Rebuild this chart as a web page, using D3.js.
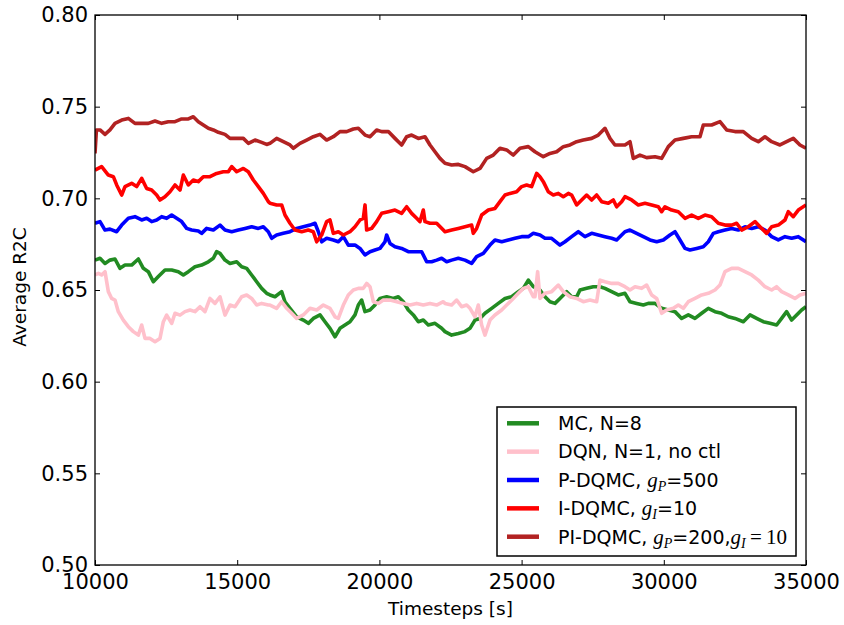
<!DOCTYPE html>
<html>
<head>
<meta charset="utf-8">
<script src="https://cdn.jsdelivr.net/npm/d3@7"></script>
<style>
  html, body { margin: 0; padding: 0; background: #fff; }
  svg { display: block; font-family: "DejaVu Sans", sans-serif; }
</style>
</head>
<body>
<svg id="chart" width="844" height="625"></svg>
<script>
// ---------- DATA (timestep, average R2C) ----------
const mcData = [[10000,0.6663],[10176,0.6673],[10352,0.6645],[10527,0.6663],[10703,0.6669],[10879,0.6618],[11055,0.6636],[11289,0.6636],[11524,0.6669],[11699,0.6618],[11875,0.6600],[12051,0.6545],[12227,0.6573],[12461,0.6609],[12696,0.6609],[12930,0.6600],[13106,0.6582],[13282,0.6600],[13516,0.6627],[13750,0.6636],[13985,0.6654],[14161,0.6673],[14278,0.6709],[14395,0.6700],[14571,0.6663],[14747,0.6645],[14981,0.6654],[15157,0.6627],[15333,0.6618],[15508,0.6582],[15684,0.6545],[15860,0.6509],[16036,0.6482],
[16153,0.6473],[16329,0.6463],[16563,0.6491],[16680,0.6436],[16856,0.6400],[17091,0.6354],[17325,0.6336],[17501,0.6318],[17677,0.6345],[17911,0.6364],[18087,0.6327],[18263,0.6291],[18439,0.6245],[18614,0.6291],[18790,0.6309],[18966,0.6327],[19142,0.6364],[19259,0.6418],[19376,0.6445],[19494,0.6382],[19669,0.6391],[19845,0.6418],[20021,0.6454],[20255,0.6463],[20489,0.6454],[20665,0.6463],[20841,0.6436],[21017,0.6391],[21193,0.6364],[21369,0.6327],[21544,0.6336],[21720,0.6309],[21955,0.6318],[22189,0.6291],
[22306,0.6273],[22540,0.6254],[22775,0.6263],[23009,0.6273],[23185,0.6291],[23361,0.6336],[23537,0.6345],[23712,0.6373],[23947,0.6400],[24181,0.6427],[24416,0.6454],[24650,0.6463],[24884,0.6491],[25060,0.6509],[25236,0.6554],[25412,0.6518],[25646,0.6500],[25822,0.6463],[25998,0.6436],[26174,0.6427],[26349,0.6454],[26584,0.6491],[26760,0.6463],[26936,0.6463],[27053,0.6500],[27287,0.6509],[27522,0.6518],[27756,0.6518],[27932,0.6509],[28166,0.6491],[28400,0.6473],
[28635,0.6482],[28811,0.6436],[29045,0.6427],[29280,0.6418],[29455,0.6427],[29690,0.6427],[29924,0.6400],[30159,0.6391],[30393,0.6382],[30627,0.6345],[30862,0.6364],[31096,0.6345],[31331,0.6373],[31565,0.6400],[31800,0.6382],[32034,0.6373],[32269,0.6354],[32503,0.6345],[32796,0.6327],[33030,0.6364],[33264,0.6345],[33498,0.6327],[33733,0.6318],[33967,0.6309],[34143,0.6345],[34319,0.6382],[34495,0.6336],[34671,0.6364],[34846,0.6391],[35000,0.6409]];

const dqnData = [[10000,0.6582],[10117,0.6591],[10234,0.6582],[10352,0.6600],[10469,0.6491],[10586,0.6454],[10703,0.6445],[10820,0.6382],[10996,0.6336],[11172,0.6300],[11348,0.6273],[11524,0.6254],[11641,0.6309],[11758,0.6236],[11934,0.6236],[12110,0.6218],[12285,0.6236],[12403,0.6327],[12520,0.6363],[12696,0.6318],[12813,0.6373],[12989,0.6363],[13164,0.6382],[13340,0.6391],[13516,0.6382],[13692,0.6409],[13868,0.6382],[14043,0.6454],[14219,0.6427],[14395,0.6463],[14571,0.6363],[14747,0.6418],[14922,0.6409],[15157,0.6463],[15333,0.6473],[15508,0.6454],[15684,0.6418],[15860,0.6427],[16094,0.6418],
[16153,0.6418],[16387,0.6400],[16563,0.6436],[16739,0.6400],[16915,0.6373],[17091,0.6345],[17325,0.6364],[17560,0.6400],[17794,0.6391],[18028,0.6418],[18263,0.6400],[18439,0.6354],[18556,0.6345],[18732,0.6418],[18907,0.6473],[19083,0.6500],[19259,0.6509],[19435,0.6509],[19552,0.6536],[19669,0.6518],[19786,0.6436],[19962,0.6427],[20138,0.6445],[20372,0.6445],[20607,0.6436],[20841,0.6427],[21075,0.6418],[21310,0.6427],[21544,0.6418],[21779,0.6427],[22013,0.6418],[22247,0.6436],
[22306,0.6427],[22540,0.6418],[22716,0.6445],[22892,0.6409],[23068,0.6418],[23185,0.6400],[23361,0.6354],[23478,0.6418],[23595,0.6309],[23712,0.6254],[23888,0.6336],[24064,0.6364],[24299,0.6391],[24474,0.6418],[24709,0.6454],[24884,0.6482],[25060,0.6509],[25236,0.6518],[25412,0.6463],[25470,0.6463],[25564,0.6600],[25646,0.6454],[25822,0.6482],[26056,0.6491],[26291,0.6527],[26467,0.6491],[26701,0.6463],[26936,0.6454],[27170,0.6436],[27404,0.6445],[27639,0.6436],[27756,0.6554],[27932,0.6545],[28166,0.6536],[28400,0.6536],
[28635,0.6518],[28811,0.6500],[28987,0.6518],[29221,0.6509],[29397,0.6527],[29573,0.6473],[29749,0.6454],[29924,0.6373],[30100,0.6391],[30335,0.6400],[30510,0.6418],[30686,0.6400],[30862,0.6436],[31096,0.6454],[31331,0.6473],[31565,0.6482],[31800,0.6500],[31975,0.6527],[32151,0.6600],[32386,0.6618],[32620,0.6618],[32854,0.6600],[33089,0.6582],[33323,0.6554],[33557,0.6518],[33792,0.6500],[33967,0.6518],[34143,0.6491],[34378,0.6473],[34612,0.6454],[34788,0.6473],[35000,0.6482]];

const pData = [[10000,0.6864],[10176,0.6873],[10352,0.6827],[10527,0.6832],[10762,0.6818],[10938,0.6854],[11172,0.6891],[11406,0.6900],[11641,0.6882],[11817,0.6891],[11992,0.6873],[12168,0.6882],[12344,0.6900],[12520,0.6891],[12696,0.6909],[12871,0.6891],[13047,0.6873],[13223,0.6836],[13399,0.6827],[13633,0.6822],[13750,0.6809],[13926,0.6836],[14161,0.6827],[14395,0.6854],[14571,0.6827],[14805,0.6818],[15040,0.6827],[15274,0.6836],[15508,0.6845],[15743,0.6836],[15919,0.6845],[16094,0.6818],
[16212,0.6782],[16387,0.6800],[16622,0.6809],[16856,0.6818],[17091,0.6836],[17325,0.6845],[17560,0.6854],[17735,0.6864],[17853,0.6818],[17970,0.6763],[18145,0.6782],[18380,0.6773],[18556,0.6763],[18732,0.6791],[18907,0.6745],[19142,0.6745],[19318,0.6727],[19494,0.6691],[19669,0.6709],[19845,0.6718],[20021,0.6727],[20197,0.6763],[20255,0.6800],[20372,0.6754],[20548,0.6736],[20782,0.6727],[21017,0.6709],[21251,0.6709],[21486,0.6709],[21662,0.6654],[21837,0.6654],[22013,0.6663],[22189,0.6673],
[22365,0.6654],[22540,0.6663],[22775,0.6673],[23009,0.6663],[23244,0.6645],[23419,0.6682],[23654,0.6700],[23888,0.6745],[24064,0.6773],[24299,0.6763],[24533,0.6773],[24767,0.6782],[25002,0.6791],[25236,0.6791],[25412,0.6809],[25646,0.6800],[25822,0.6782],[26056,0.6782],[26349,0.6745],[26525,0.6763],[26760,0.6791],[26994,0.6818],[27228,0.6791],[27463,0.6809],[27697,0.6800],[27932,0.6791],[28166,0.6782],[28342,0.6773],[28518,0.6800],
[28635,0.6818],[28811,0.6827],[29045,0.6809],[29280,0.6791],[29514,0.6773],[29749,0.6763],[29983,0.6773],[30217,0.6800],[30393,0.6818],[30569,0.6773],[30745,0.6727],[30920,0.6718],[31155,0.6727],[31389,0.6736],[31565,0.6763],[31741,0.6809],[31917,0.6818],[32151,0.6827],[32386,0.6836],[32620,0.6827],[32854,0.6845],[33089,0.6836],[33323,0.6845],[33557,0.6827],[33792,0.6791],[34026,0.6773],[34261,0.6791],[34495,0.6782],[34729,0.6791],[35000,0.6763]];

const iData = [[10000,0.7154],[10234,0.7173],[10469,0.7127],[10645,0.7118],[10762,0.7073],[10938,0.7018],[11055,0.7064],[11289,0.7082],[11465,0.7064],[11641,0.7109],[11817,0.7054],[11992,0.7045],[12168,0.7018],[12285,0.6991],[12461,0.7009],[12637,0.7036],[12813,0.7073],[12989,0.7045],[13106,0.7127],[13282,0.7073],[13457,0.7100],[13633,0.7091],[13809,0.7118],[14043,0.7118],[14278,0.7136],[14512,0.7145],[14688,0.7145],[14805,0.7173],[14981,0.7145],[15215,0.7163],[15391,0.7145],[15567,0.7100],[15743,0.7064],[15919,0.7027],[16094,0.6982],
[16153,0.6973],[16387,0.6964],[16563,0.6964],[16680,0.6909],[16856,0.6864],[17032,0.6827],[17266,0.6818],[17501,0.6827],[17677,0.6818],[17794,0.6763],[17970,0.6800],[18145,0.6873],[18263,0.6882],[18380,0.6809],[18556,0.6818],[18732,0.6800],[18966,0.6818],[19142,0.6845],[19318,0.6882],[19435,0.6891],[19494,0.6964],[19552,0.6827],[19728,0.6836],[19903,0.6873],[20079,0.6918],[20314,0.6927],[20548,0.6936],[20782,0.6918],[20958,0.6954],[21134,0.6918],[21310,0.6891],[21427,0.6873],[21544,0.6936],[21603,0.6873],[21779,0.6864],[22013,0.6864],[22247,0.6827],
[22306,0.6818],[22540,0.6827],[22775,0.6836],[23009,0.6845],[23244,0.6854],[23302,0.6809],[23419,0.6836],[23595,0.6909],[23830,0.6936],[24064,0.6945],[24240,0.6982],[24416,0.7018],[24592,0.7027],[24826,0.7036],[25002,0.7064],[25177,0.7073],[25353,0.7064],[25529,0.7136],[25646,0.7118],[25763,0.7091],[25939,0.7036],[26115,0.7018],[26291,0.7027],[26467,0.7009],[26643,0.7027],[26760,0.7018],[26936,0.6964],[27111,0.6991],[27287,0.7018],[27463,0.6991],[27639,0.7018],[27815,0.6982],[28049,0.6973],[28225,0.6991],[28342,0.6954],[28518,0.6982],
[28635,0.7009],[28869,0.6991],[29104,0.6964],[29338,0.6973],[29573,0.6964],[29807,0.6954],[29924,0.6927],[30041,0.6954],[30276,0.6936],[30510,0.6927],[30745,0.6891],[30979,0.6909],[31213,0.6891],[31448,0.6909],[31682,0.6900],[31917,0.6864],[32151,0.6854],[32386,0.6854],[32561,0.6864],[32737,0.6827],[32971,0.6845],[33206,0.6873],[33381,0.6845],[33616,0.6809],[33792,0.6845],[34026,0.6854],[34261,0.6882],[34378,0.6927],[34553,0.6900],[34729,0.6936],[35000,0.6964]];

const piData = [[10000,0.7245],[10050,0.7373],[10176,0.7373],[10352,0.7349],[10527,0.7373],[10703,0.7409],[10938,0.7427],[11172,0.7436],[11406,0.7409],[11641,0.7409],[11875,0.7409],[12110,0.7422],[12344,0.7409],[12578,0.7418],[12813,0.7418],[13047,0.7433],[13282,0.7433],[13457,0.7445],[13633,0.7418],[13809,0.7400],[13985,0.7382],[14161,0.7373],[14336,0.7360],[14571,0.7349],[14747,0.7327],[14981,0.7327],[15215,0.7327],[15391,0.7300],[15626,0.7318],[15860,0.7305],[16036,0.7294],
[16153,0.7300],[16387,0.7327],[16622,0.7309],[16856,0.7291],[16973,0.7273],[17208,0.7300],[17442,0.7318],[17677,0.7336],[17911,0.7349],[18145,0.7318],[18380,0.7336],[18614,0.7364],[18849,0.7364],[19083,0.7378],[19259,0.7382],[19495,0.7345],[19669,0.7336],[19903,0.7373],[20079,0.7364],[20314,0.7364],[20548,0.7327],[20782,0.7291],[20958,0.7336],[21134,0.7345],[21369,0.7327],[21603,0.7336],[21779,0.7291],[21955,0.7254],[22130,0.7218],
[22306,0.7191],[22540,0.7182],[22775,0.7185],[23009,0.7173],[23302,0.7145],[23537,0.7163],[23771,0.7218],[24005,0.7236],[24240,0.7273],[24474,0.7264],[24709,0.7236],[24943,0.7273],[25236,0.7282],[25470,0.7254],[25763,0.7227],[25998,0.7245],[26232,0.7254],[26467,0.7282],[26701,0.7291],[26936,0.7309],[27170,0.7318],[27463,0.7327],[27697,0.7345],[27932,0.7382],[28107,0.7327],[28283,0.7291],[28518,0.7291],
[28635,0.7291],[28811,0.7309],[28928,0.7218],[29162,0.7236],[29397,0.7222],[29690,0.7227],[29924,0.7218],[30159,0.7282],[30393,0.7318],[30686,0.7327],[30979,0.7336],[31272,0.7336],[31389,0.7400],[31682,0.7400],[31975,0.7418],[32210,0.7373],[32503,0.7364],[32796,0.7364],[33089,0.7327],[33323,0.7309],[33557,0.7336],[33792,0.7309],[34085,0.7291],[34319,0.7309],[34553,0.7327],[34788,0.7291],[35000,0.7273]];

const xTicks = [10000, 15000, 20000, 25000, 30000, 35000];
const yTicks = [0.50, 0.55, 0.60, 0.65, 0.70, 0.75, 0.80];
const xLabel = "Timesteps [s]";
const yLabel = "Average R2C";

// legend labels: segments (m = math italic, sub = subscript, s = math upright)
const seriesNames = [
  [{t: "MC, N=8"}],
  [{t: "DQN, N=1, no ctl"}],
  [{t: "P-DQMC, "}, {t: "g", m: 1}, {t: "P", sub: 1}, {t: "=500"}],
  [{t: "I-DQMC, "}, {t: "g", m: 1}, {t: "I", sub: 1}, {t: "=10"}],
  [{t: "PI-DQMC, "}, {t: "g", m: 1}, {t: "P", sub: 1}, {t: "=200,"}, {t: "g", m: 1}, {t: "I", sub: 1}, {t: "\u2009=\u200910", s: 1}]
];
const seriesColors = ["#228B22", "#FFC0CB", "#0000FF", "#FF0000", "#B22222"];
const seriesData = [mcData, dqnData, pData, iData, piData];

// ---------- LAYOUT ----------
const svg = d3.select("#chart");
const L = 95, T = 15, R = 806, B = 565;
const x = d3.scaleLinear().domain([10000, 35000]).range([L, R]);
const y = d3.scaleLinear().domain([0.50, 0.80]).range([B, T]);

svg.append("defs").append("clipPath").attr("id", "clip")
  .append("rect").attr("x", L).attr("y", T).attr("width", R - L).attr("height", B - T);

// lines
const line = d3.line().x(d => x(d[0])).y(d => y(d[1]));
const gLines = svg.append("g").attr("clip-path", "url(#clip)");
seriesData.forEach((data, i) => {
  const sorted = data.slice().sort((a, b) => a[0] - b[0]);
  gLines.append("path").datum(sorted)
    .attr("d", line)
    .attr("fill", "none")
    .attr("stroke", seriesColors[i])
    .attr("stroke-width", 3.6)
    .attr("stroke-linejoin", "round");
});

// axes (ticks inward, on all four sides)
const tickLen = 5;
const fmtY = d3.format(".2f");
const axB = svg.append("g").attr("transform", `translate(0,${B})`)
  .call(d3.axisBottom(x).tickValues(xTicks).tickSizeInner(-tickLen).tickSizeOuter(0).tickPadding(12).tickFormat(d3.format("d")));
const axT = svg.append("g").attr("transform", `translate(0,${T})`)
  .call(d3.axisTop(x).tickValues(xTicks).tickSizeInner(-tickLen).tickSizeOuter(0).tickFormat(""));
const axL = svg.append("g").attr("transform", `translate(${L},0)`)
  .call(d3.axisLeft(y).tickValues(yTicks).tickSizeInner(-tickLen).tickSizeOuter(0).tickPadding(12).tickFormat(fmtY));
const axR = svg.append("g").attr("transform", `translate(${R},0)`)
  .call(d3.axisRight(y).tickValues(yTicks).tickSizeInner(-tickLen).tickSizeOuter(0).tickFormat(""));

[axB, axT, axL, axR].forEach(g => {
  g.select(".domain").remove();
  g.selectAll(".tick line").attr("stroke", "#000").attr("stroke-width", 1);
  g.selectAll(".tick text").attr("fill", "#000")
    .style("font-family", "'DejaVu Sans', sans-serif").style("font-size", "21px");
});
axB.selectAll(".tick text").attr("dy", "0.71em").attr("y", 9);
axL.selectAll(".tick text").attr("x", -7).attr("dy", "0.33em");

// frame
svg.append("rect").attr("x", L).attr("y", T).attr("width", R - L).attr("height", B - T)
  .attr("fill", "none").attr("stroke", "#000").attr("stroke-width", 1.3);

// axis labels
svg.append("text").attr("x", (L + R) / 2).attr("y", 615)
  .attr("text-anchor", "middle").style("font-size", "18.5px").text(xLabel);
svg.append("text").attr("transform", `translate(26,${(T + B) / 2 - 3}) rotate(-90)`)
  .attr("text-anchor", "middle").style("font-size", "18.5px").text(yLabel);

// legend
const lg = svg.append("g");
lg.append("rect").attr("x", 497).attr("y", 407).attr("width", 299).attr("height", 149)
  .attr("fill", "#fff").attr("stroke", "#000").attr("stroke-width", 1.5);
const rowY = d3.scaleLinear().domain([0, 4]).range([423.3, 536.7]);
seriesNames.forEach((segs, i) => {
  const cy = rowY(i);
  lg.append("line").attr("x1", 507).attr("x2", 539).attr("y1", cy).attr("y2", cy)
    .attr("stroke", seriesColors[i]).attr("stroke-width", 4.5);
  const txt = lg.append("text").attr("x", 558).attr("y", cy + 6.8).style("font-size", "19px");
  let shifted = false;
  segs.forEach(s => {
    const ts = txt.append("tspan").text(s.t);
    if (s.m || s.sub || s.s) {
      ts.style("font-family", "'Liberation Serif', 'Times New Roman', serif");
    }
    if (s.m) { ts.style("font-style", "italic").style("font-size", "21px"); }
    if (s.s) { ts.style("font-size", "21px"); }
    if (s.sub) {
      ts.style("font-style", "italic").style("font-size", "14px").attr("dy", 4);
      shifted = true;
    } else if (shifted) {
      ts.attr("dy", -4);
      shifted = false;
    }
  });
});
</script>
</body>
</html>
